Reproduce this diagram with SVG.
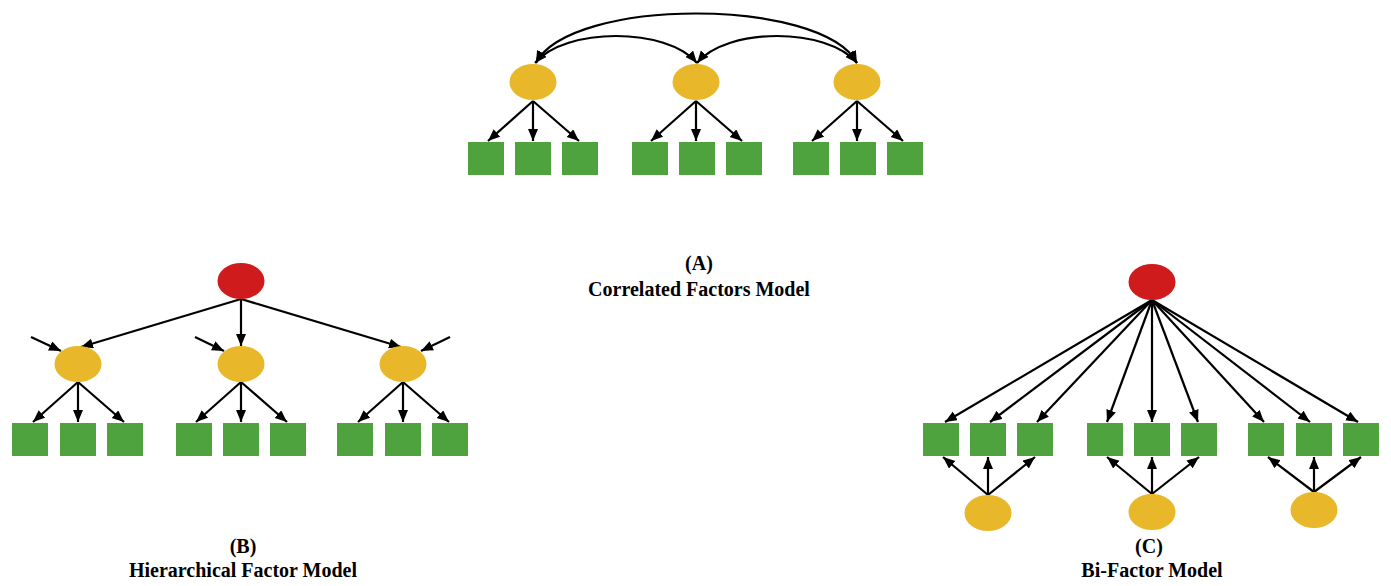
<svg xmlns="http://www.w3.org/2000/svg" width="1391" height="586" viewBox="0 0 1391 586">
<style>
.f{fill:#E9B82A}
.g{fill:#4FA33F}
.r{fill:#CF1B1B}
.c{stroke:#000;stroke-width:2.2;fill:none;marker-end:url(#ah)}
.d{stroke:#000;stroke-width:2.2;fill:none;marker-end:url(#ah);marker-start:url(#ah)}
.t{font-family:"Liberation Serif","Times New Roman",serif;font-weight:bold;font-size:20px;fill:#000;text-anchor:middle}
</style>
<defs>
<marker id="ah" markerUnits="userSpaceOnUse" markerWidth="14" markerHeight="12" refX="12" refY="5" orient="auto-start-reverse" viewBox="0 0 14 12">
<path d="M0,0 L12,5 L0,10 z" fill="#000"/>
</marker>
</defs>
<rect width="1391" height="586" fill="#fff"/>

<g id="connectors">
<!-- A -->
<path class="d" d="M536,63 C570,-3 822,-3 857,63"/>
<path class="d" d="M535,63 C565,27 667,27 697,63"/>
<path class="d" d="M697,63 C727,27 827,27 857,63"/>
<path class="c" d="M533,101 L488,141"/>
<path class="c" d="M533,101 L533,141"/>
<path class="c" d="M533,101 L579,141"/>
<path class="c" d="M696,101 L651,141"/>
<path class="c" d="M696,101 L696,141"/>
<path class="c" d="M696,101 L742,141"/>
<path class="c" d="M857,101 L812,141"/>
<path class="c" d="M857,101 L857,141"/>
<path class="c" d="M857,101 L903,141"/>
<!-- B -->
<path class="c" d="M241,299 L81,347"/>
<path class="c" d="M241,299 L241,346"/>
<path class="c" d="M241,299 L401,347"/>
<path class="c" d="M31,337 L61,351"/>
<path class="c" d="M195,337 L224,351"/>
<path class="c" d="M450,337 L421,351"/>
<path class="c" d="M78,382 L33,422"/>
<path class="c" d="M78,382 L78,422"/>
<path class="c" d="M78,382 L124,422"/>
<path class="c" d="M241,382 L196,422"/>
<path class="c" d="M241,382 L241,422"/>
<path class="c" d="M241,382 L287,422"/>
<path class="c" d="M403,382 L358,422"/>
<path class="c" d="M403,382 L403,422"/>
<path class="c" d="M403,382 L449,422"/>
<!-- C -->
<path class="c" d="M1152,300 L945,422"/>
<path class="c" d="M1152,300 L990,422"/>
<path class="c" d="M1152,300 L1037,422"/>
<path class="c" d="M1152,300 L1107,422"/>
<path class="c" d="M1152,300 L1152,422"/>
<path class="c" d="M1152,300 L1198,422"/>
<path class="c" d="M1152,300 L1264,422"/>
<path class="c" d="M1152,300 L1310,422"/>
<path class="c" d="M1152,300 L1358,422"/>
<path class="c" d="M988,495 L943,457"/>
<path class="c" d="M988,495 L988,457"/>
<path class="c" d="M988,495 L1035,457"/>
<path class="c" d="M1152,494 L1107,457"/>
<path class="c" d="M1152,494 L1152,457"/>
<path class="c" d="M1152,494 L1199,457"/>
<path class="c" d="M1314,492 L1268,457"/>
<path class="c" d="M1314,492 L1314,457"/>
<path class="c" d="M1314,492 L1361,457"/>
</g>

<!-- A nodes -->
<g id="A-f1"><ellipse class="f" cx="533" cy="82" rx="23.5" ry="18"/></g>
<g id="A-f2"><ellipse class="f" cx="696" cy="82" rx="23.5" ry="18"/></g>
<g id="A-f3"><ellipse class="f" cx="857" cy="82" rx="23.5" ry="18"/></g>
<g id="A-i1"><rect class="g" x="468" y="142" width="36" height="33"/></g>
<g id="A-i2"><rect class="g" x="515" y="142" width="36" height="33"/></g>
<g id="A-i3"><rect class="g" x="562" y="142" width="36" height="33"/></g>
<g id="A-i4"><rect class="g" x="632" y="142" width="36" height="33"/></g>
<g id="A-i5"><rect class="g" x="679" y="142" width="36" height="33"/></g>
<g id="A-i6"><rect class="g" x="726" y="142" width="36" height="33"/></g>
<g id="A-i7"><rect class="g" x="793" y="142" width="36" height="33"/></g>
<g id="A-i8"><rect class="g" x="840" y="142" width="36" height="33"/></g>
<g id="A-i9"><rect class="g" x="887" y="142" width="36" height="33"/></g>

<!-- B nodes -->
<g id="B-g"><ellipse class="r" cx="241" cy="281" rx="23.5" ry="18"/></g>
<g id="B-f1"><ellipse class="f" cx="78" cy="364" rx="23.5" ry="18"/></g>
<g id="B-f2"><ellipse class="f" cx="241" cy="364" rx="23.5" ry="18"/></g>
<g id="B-f3"><ellipse class="f" cx="403" cy="364" rx="23.5" ry="18"/></g>
<g id="B-i1"><rect class="g" x="12" y="423" width="36" height="33"/></g>
<g id="B-i2"><rect class="g" x="60" y="423" width="36" height="33"/></g>
<g id="B-i3"><rect class="g" x="107" y="423" width="36" height="33"/></g>
<g id="B-i4"><rect class="g" x="176" y="423" width="36" height="33"/></g>
<g id="B-i5"><rect class="g" x="223" y="423" width="36" height="33"/></g>
<g id="B-i6"><rect class="g" x="270" y="423" width="36" height="33"/></g>
<g id="B-i7"><rect class="g" x="337" y="423" width="36" height="33"/></g>
<g id="B-i8"><rect class="g" x="385" y="423" width="36" height="33"/></g>
<g id="B-i9"><rect class="g" x="432" y="423" width="36" height="33"/></g>

<!-- C nodes -->
<g id="C-g"><ellipse class="r" cx="1152" cy="282" rx="23.5" ry="18"/></g>
<g id="C-i1"><rect class="g" x="923" y="423" width="36" height="33"/></g>
<g id="C-i2"><rect class="g" x="970" y="423" width="36" height="33"/></g>
<g id="C-i3"><rect class="g" x="1017" y="423" width="36" height="33"/></g>
<g id="C-i4"><rect class="g" x="1087" y="423" width="36" height="33"/></g>
<g id="C-i5"><rect class="g" x="1134" y="423" width="36" height="33"/></g>
<g id="C-i6"><rect class="g" x="1181" y="423" width="36" height="33"/></g>
<g id="C-i7"><rect class="g" x="1248" y="423" width="36" height="33"/></g>
<g id="C-i8"><rect class="g" x="1296" y="423" width="36" height="33"/></g>
<g id="C-i9"><rect class="g" x="1343" y="423" width="36" height="33"/></g>
<g id="C-s1"><ellipse class="f" cx="988" cy="513" rx="23.5" ry="18"/></g>
<g id="C-s2"><ellipse class="f" cx="1152" cy="512" rx="23.5" ry="18"/></g>
<g id="C-s3"><ellipse class="f" cx="1314" cy="510" rx="23.5" ry="18"/></g>

<g id="labels">
<text class="t" x="699" y="270">(A)</text>
<text class="t" x="699" y="296">Correlated Factors Model</text>
<text class="t" x="243" y="553">(B)</text>
<text class="t" x="243" y="577">Hierarchical Factor Model</text>
<text class="t" x="1149" y="553">(C)</text>
<text class="t" x="1152" y="577">Bi-Factor Model</text>
</g>
</svg>
